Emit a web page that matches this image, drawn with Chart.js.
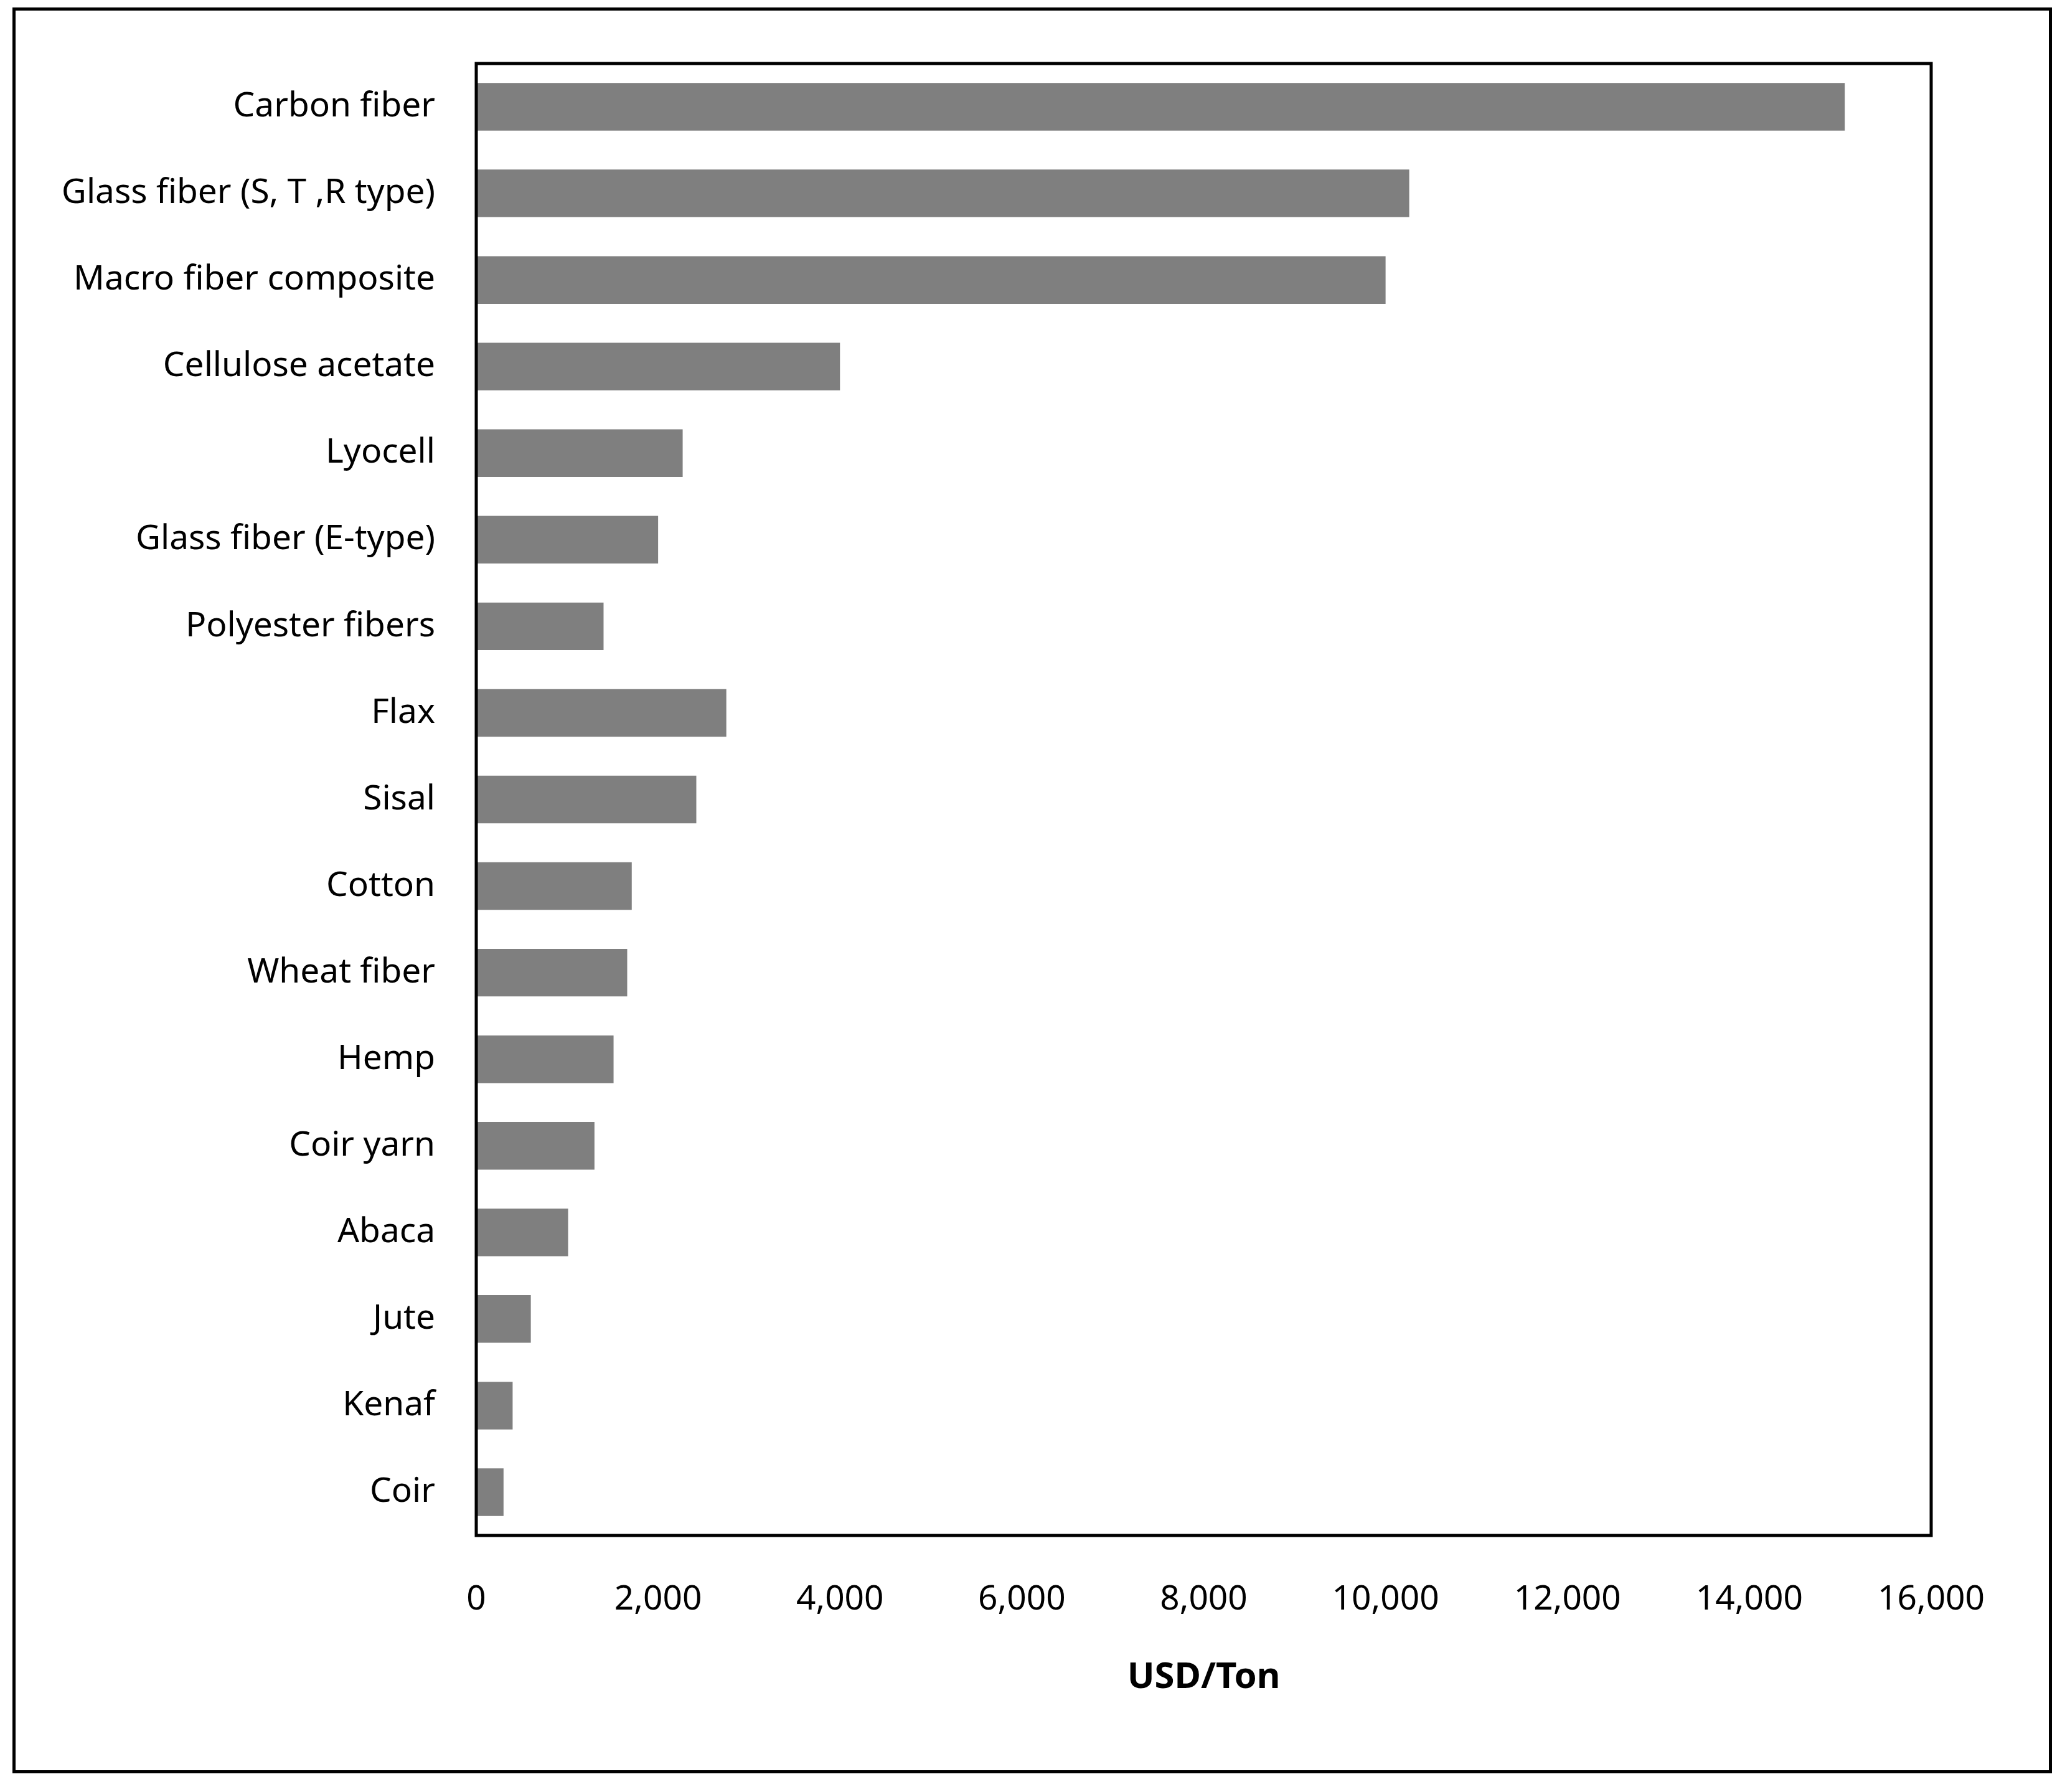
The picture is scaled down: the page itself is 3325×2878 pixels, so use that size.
<!DOCTYPE html>
<html>
<head>
<meta charset="utf-8">
<script src="https://cdn.jsdelivr.net/npm/chart.js@4/dist/chart.umd.min.js"></script>
<style>
  body { margin: 0; background: #fff; }
  #wrap { position: relative; width: 3325px; height: 2878px; }
  #frame { position: absolute; left: 20px; top: 12px; width: 3276px; height: 2836px; border: 5px solid #000; box-sizing: border-box; }
  canvas { position: absolute; left: 0; top: 0; }
</style>
</head>
<body>
<div id="wrap">
  <div id="frame"></div>
  <canvas id="chart" width="3325" height="2878"></canvas>
</div>
<script>
// categories, top to bottom
const fibers = [
  'Carbon fiber', 'Glass fiber (S, T ,R type)', 'Macro fiber composite', 'Cellulose acetate',
  'Lyocell', 'Glass fiber (E-type)', 'Polyester fibers', 'Flax', 'Sisal', 'Cotton',
  'Wheat fiber', 'Hemp', 'Coir yarn', 'Abaca', 'Jute', 'Kenaf', 'Coir'
];
// USD per ton
const prices = [
  15050, 10260, 10000, 4000, 2270, 2000, 1400, 2750, 2420, 1710,
  1660, 1510, 1300, 1010, 600, 400, 300
];
const xTicks = [0, 2000, 4000, 6000, 8000, 10000, 12000, 14000, 16000];

// box around the plot area
const boxPlugin = {
  id: 'box',
  afterDraw(chart) {
    const a = chart.chartArea, ctx = chart.ctx;
    ctx.save();
    ctx.strokeStyle = '#000';
    ctx.lineWidth = 5;
    ctx.strokeRect(a.left, a.top, a.right - a.left, a.bottom - a.top);
    ctx.restore();
  }
};

const font = "'Noto Sans', 'DejaVu Sans', sans-serif";

new Chart(document.getElementById('chart'), {
  type: 'bar',
  data: {
    labels: fibers,
    datasets: [{
      data: prices,
      backgroundColor: '#7f7f7f',
      categoryPercentage: 1,
      barPercentage: 0.55
    }]
  },
  options: {
    indexAxis: 'y',
    responsive: false,
    animation: false,
    layout: { padding: { top: 102, right: 223, bottom: 145, left: 0 } },
    plugins: { legend: { display: false }, tooltip: { enabled: false } },
    scales: {
      x: {
        min: 0,
        max: 16000,
        afterBuildTicks(scale) { scale.ticks = xTicks.map(v => ({ value: v })); },
        afterFit(scale) { scale.height = 267; },
        grid: { display: false },
        border: { display: false },
        ticks: {
          padding: 62,
          color: '#000',
          font: { family: font, size: 55 },
          callback: v => v.toLocaleString('en-US')
        },
        title: {
          display: true,
          text: 'USD/Ton',
          color: '#000',
          font: { family: font, size: 58, weight: 'bold' }
        }
      },
      y: {
        afterFit(scale) { scale.width = 765; },
        grid: { display: false },
        border: { display: false },
        ticks: {
          padding: 58,
          color: '#000',
          font: { family: font, size: 55 }
        }
      }
    }
  },
  plugins: [boxPlugin]
});
</script>
</body>
</html>
